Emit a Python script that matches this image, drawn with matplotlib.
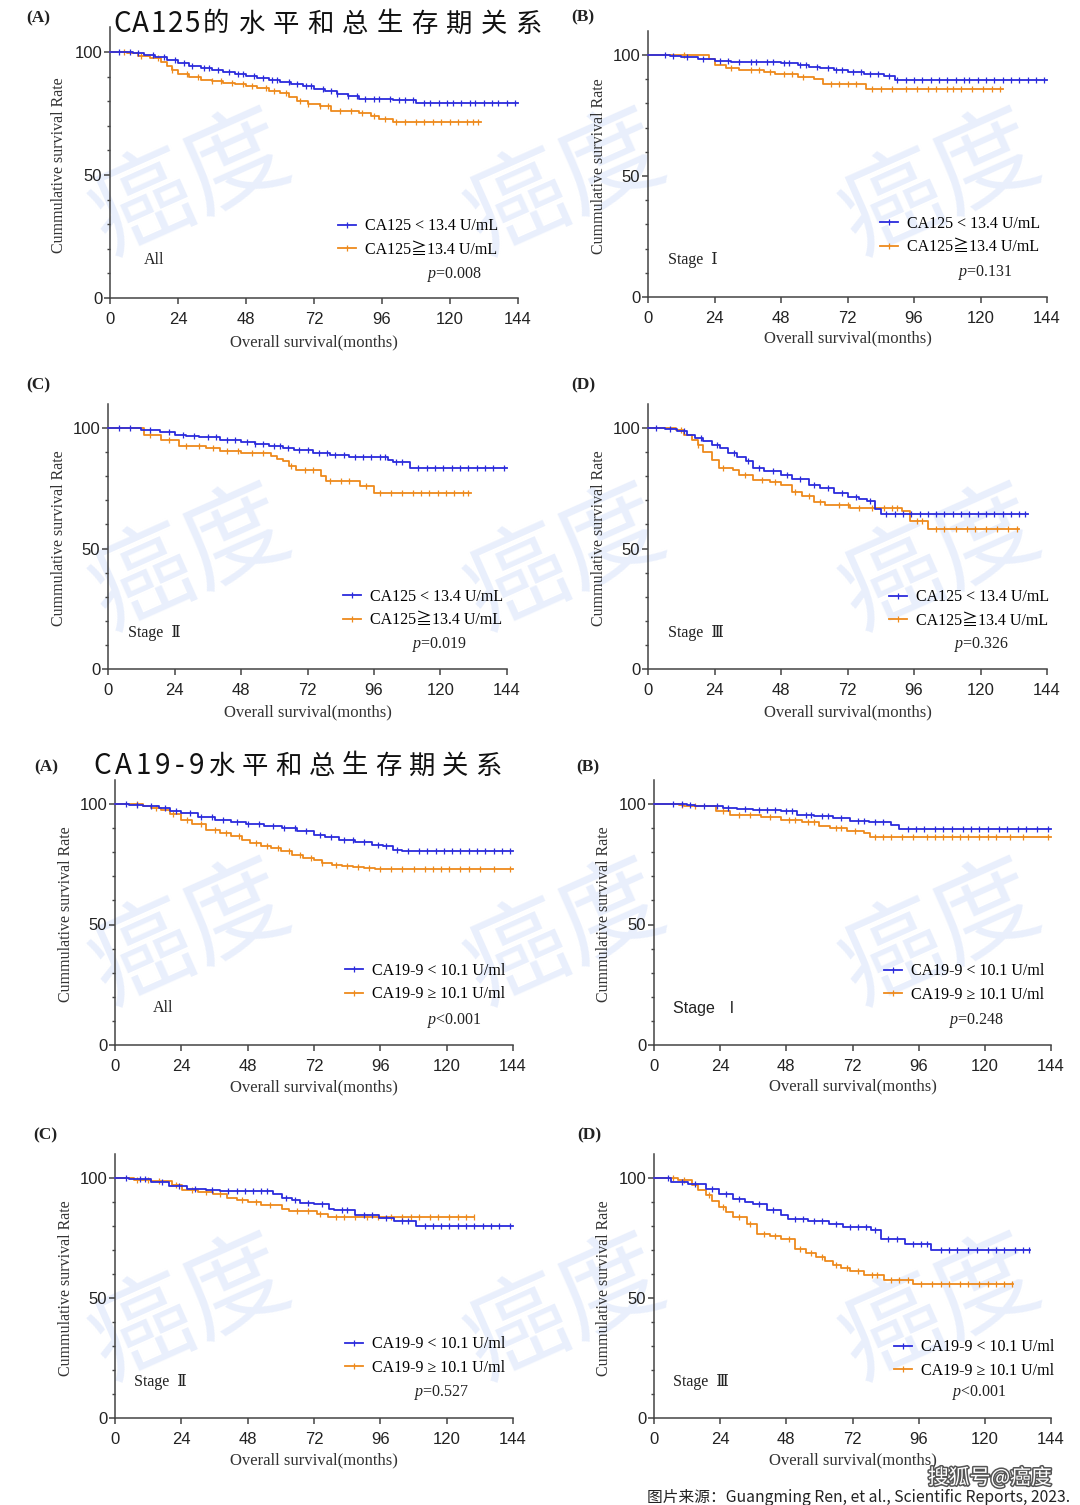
import numpy as np
import matplotlib
matplotlib.use("Agg")
import matplotlib.pyplot as plt
from matplotlib.lines import Line2D
from matplotlib.font_manager import FontProperties
import matplotlib.patheffects as pe

plt.rcParams['mathtext.fontset'] = 'custom'
plt.rcParams['mathtext.it'] = 'Liberation Serif:italic'
plt.rcParams['mathtext.rm'] = 'Liberation Serif'

# ---------------- data (months, survival %) ----------------
# CA125, All
ca125_all_lo_t = [0, 4, 8, 12, 16, 20, 24, 28, 32, 36, 40, 44, 48, 52, 56, 60, 64, 68, 72, 76, 80, 84, 88, 92, 100, 108, 144]
ca125_all_lo_s = [100, 99.8, 99.4, 98.6, 97.8, 96.9, 95.5, 94.5, 93.6, 92.6, 91.8, 91, 90.2, 89.3, 88.6, 87.8, 86.9, 86, 84.9, 84, 83, 82, 81, 80.7, 80.3, 79.2, 79.2]
ca125_all_lo_c = [3, 7, 10, 15, 19, 23, 26, 29, 33, 35, 38, 42, 45, 47, 51, 54, 57, 59, 63, 66, 69, 71, 75, 78, 80, 84, 87, 90, 93, 95, 99, 102, 104, 107, 111, 113, 116, 119, 121, 124, 127, 129, 132, 135, 137, 140, 143]
ca125_all_hi_t = [0, 6, 10, 14, 18, 20, 22, 24, 28, 32, 36, 40, 44, 48, 52, 56, 60, 63, 66, 70, 74, 78, 84, 88, 92, 95, 100, 131]
ca125_all_hi_s = [100, 99.5, 98.5, 97.4, 95.8, 94.5, 92.8, 91.2, 89.8, 88.8, 88.2, 87.6, 86.9, 86.1, 85.2, 84.3, 83.3, 81.6, 80.2, 78.8, 78.2, 76.2, 76, 75.4, 74, 72.8, 71.4, 71.4]
ca125_all_hi_c = [5, 11, 17, 22, 27, 31, 36, 39, 43, 47, 50, 55, 58, 62, 67, 70, 74, 77, 81, 85, 89, 93, 97, 101, 104, 108, 111, 114, 117, 120, 123, 126, 128, 130]

# CA125, Stage I
ca125_s1_lo_t = [0, 8, 12, 18, 24, 30, 40, 48, 54, 58, 62, 67, 72, 78, 85, 89, 144]
ca125_s1_lo_s = [100, 99.6, 99, 98.2, 97.5, 97.3, 97, 96.6, 96, 95.2, 94.8, 94, 92.8, 92.3, 91.3, 89.7, 89.7]
ca125_s1_lo_c = [6, 9, 14, 20, 26, 29, 33, 37, 39, 43, 45, 49, 51, 55, 57, 61, 65, 68, 70, 74, 77, 80, 83, 87, 90, 93, 96, 99, 102, 105, 108, 111, 114, 116, 119, 122, 125, 128, 131, 134, 137, 140, 143]
ca125_s1_hi_t = [0, 22, 24, 28, 33, 42, 46, 54, 60, 63, 78.5, 128]
ca125_s1_hi_s = [100, 98.5, 95.9, 94.5, 94, 93.1, 92.1, 91, 90, 88, 85.8, 85.8]
ca125_s1_hi_c = [13, 30, 37, 40, 44, 49, 52, 56, 66, 69, 72, 75, 81, 84, 88, 93, 97, 101, 104, 108, 110, 113, 117, 121, 124, 127]

# CA125, Stage II
ca125_s2_lo_t = [0, 12, 18.7, 24, 28, 33, 40.5, 48, 53, 58, 63, 67, 74, 80, 87, 101, 103, 109, 144]
ca125_s2_lo_s = [100, 99, 98.3, 97.2, 96.8, 96.1, 94.9, 94, 93.4, 92.7, 91.8, 91, 89.6, 88.6, 87.8, 86.9, 85.8, 83.4, 83.4]
ca125_s2_lo_c = [4, 8, 15, 22, 27, 31, 36, 39, 43, 46, 50, 53, 56, 60, 62, 65, 69, 72, 76, 79, 82, 85, 89, 92, 95, 98, 100, 104, 106, 112, 115, 118, 121, 124, 127, 130, 133, 136, 139, 143]
ca125_s2_hi_t = [0, 13, 19.3, 25.6, 35.5, 40.5, 48, 59, 61, 63, 65.5, 68, 77, 78.5, 91, 96, 131]
ca125_s2_hi_s = [100, 97.2, 95.2, 92.7, 91.7, 90.6, 89.6, 88.5, 87.2, 86.2, 84.1, 82.4, 79.9, 77.9, 75.8, 73, 73]
ca125_s2_hi_c = [15, 22, 28, 33, 38, 43, 47, 52, 56, 66, 71, 74, 80, 84, 87, 93, 98, 102, 106, 110, 113, 116, 119, 122, 125, 128, 130]

# CA125, Stage III
ca125_s3_lo_t = [0, 6, 10.6, 14, 16.8, 20, 23, 26, 29, 32, 35.5, 38, 42, 48, 52, 58, 62, 67, 72, 76, 79, 82, 84, 137]
ca125_s3_lo_s = [100, 99.5, 98.6, 97.2, 95.9, 94.6, 93.1, 91.5, 89.6, 88, 86.2, 83.4, 82, 80.6, 79, 76.5, 75, 73, 71.5, 70.5, 69.6, 66.5, 64.5, 64.5]
ca125_s3_lo_c = [3, 8, 13, 19, 25, 31, 36, 40, 45, 50, 55, 60, 65, 70, 75, 80, 86, 89, 92, 95, 98, 101, 104, 107, 110, 113, 116, 119, 122, 125, 128, 131, 134, 136]
ca125_s3_hi_t = [0, 10, 13, 16, 18, 20, 23, 25.6, 30.5, 33, 38, 44, 48, 52, 55.5, 60, 64, 73, 91.5, 94.7, 101, 134]
ca125_s3_hi_s = [100, 99, 97.2, 95, 93.1, 90, 86.9, 83.4, 82.7, 80.6, 78.6, 77.5, 76.5, 73.5, 71.6, 69.5, 68.2, 66.8, 65.4, 61.3, 58.1, 58.1]
ca125_s3_hi_c = [12, 18, 27, 35, 41, 46, 53, 58, 62, 69, 72, 76, 81, 85, 88, 90, 97, 99, 104, 107, 111, 115, 118, 122, 126, 130, 133]

# CA19-9, All
ca199_all_lo_t = [0, 5, 10, 16, 20, 24, 30, 36, 42, 47.5, 54, 60.5, 66, 72, 76, 81, 87, 93, 97, 100.5, 104, 108, 144]
ca199_all_lo_s = [100, 99.7, 99.3, 98.2, 97.3, 96.3, 94.8, 93.5, 92.6, 91.8, 91, 90, 88.7, 87.3, 86.3, 85.2, 84.2, 83.1, 82.5, 81, 80.6, 80.3, 80.3]
ca199_all_lo_c = [4, 8, 13, 18, 22, 27, 31, 35, 39, 44, 48, 52, 57, 61, 65, 69, 74, 78, 83, 86, 90, 95, 98, 102, 106, 110, 113, 116, 119, 122, 125, 128, 131, 134, 137, 140, 143]
ca199_all_hi_t = [0, 10, 13, 16.5, 20, 24, 28, 33, 38, 42, 46, 49, 53, 56.6, 60, 64, 68, 72, 75, 78.5, 82, 86, 90, 94, 144]
ca199_all_hi_s = [100, 99.2, 98.5, 97.6, 96, 93.5, 91.5, 89.3, 87.8, 86.6, 85, 83.8, 82.6, 81.7, 80.3, 79, 77.8, 76.9, 75.6, 74.8, 74.2, 73.7, 73.4, 73, 73]
ca199_all_hi_c = [8, 15, 21, 26, 31, 36, 40, 45, 51, 55, 59, 63, 67, 71, 75, 80, 84, 88, 92, 96, 100, 104, 108, 112, 115, 118, 121, 125, 128, 132, 137, 143]

# CA19-9, Stage I
ca199_s1_lo_t = [0, 12, 15, 25, 30, 36, 46, 52, 58, 65, 71, 78, 86, 89, 144]
ca199_s1_lo_s = [100, 99.6, 99.3, 98.3, 98, 97.6, 96.9, 95.6, 95, 94.2, 92.8, 92.5, 91.4, 89.7, 89.7]
ca199_s1_lo_c = [7, 10, 13, 18, 23, 27, 33, 38, 41, 44, 48, 50, 55, 57, 61, 63, 68, 74, 76, 80, 83, 92, 95, 98, 102, 105, 108, 112, 115, 118, 121, 125, 128, 132, 135, 139, 143]
ca199_s1_hi_t = [0, 9, 11, 21, 22.5, 27.4, 38.7, 46, 53.6, 60, 64, 70, 76, 78.5, 144]
ca199_s1_hi_s = [100, 99.7, 99.3, 99, 96.9, 95.6, 94.4, 93.5, 92.5, 90.7, 90, 88.9, 87.9, 86.5, 86.5]
ca199_s1_hi_c = [10, 15, 25, 31, 35, 42, 49, 51, 56, 58, 66, 68, 73, 80, 83, 86, 90, 94, 99, 102, 105, 108, 111, 114, 118, 121, 124, 129, 134, 143]

# CA19-9, Stage II
ca199_s2_lo_t = [0, 5, 7, 13, 19.4, 26, 33, 38, 57, 60.6, 64, 67, 72, 77.5, 79.4, 87, 95.6, 101, 109, 144]
ca199_s2_lo_s = [100, 99.7, 99.4, 98.3, 96.5, 95.6, 94.9, 94.4, 93.2, 91.8, 90.8, 89.6, 89, 87.2, 86.5, 84.7, 83.5, 82.1, 79.9, 79.9]
ca199_s2_lo_c = [4, 9, 11, 17, 23, 29, 35, 41, 44, 47, 50, 53, 55, 62, 65, 70, 75, 82, 84, 90, 93, 98, 104, 106, 112, 115, 118, 121, 124, 127, 130, 133, 136, 139, 143]
ca199_s2_hi_t = [0, 7, 13, 20.6, 24.4, 30, 35.6, 40.6, 44, 48, 53, 60.6, 63, 73, 77, 130]
ca199_s2_hi_s = [100, 99.3, 98.6, 97, 94.9, 94.2, 93.2, 91.8, 91, 90, 88.6, 87.2, 86.3, 85.1, 83.8, 83.8]
ca199_s2_hi_c = [8, 12, 16, 22, 28, 33, 38, 46, 51, 56, 66, 70, 74, 80, 83, 87, 91, 95, 100, 104, 107, 110, 114, 117, 121, 124, 127, 130]

# CA19-9, Stage III
ca199_s3_lo_t = [0, 6.2, 12.5, 18.7, 23.7, 28.7, 33, 36, 41, 46, 48.6, 56, 63.6, 68.6, 78.6, 82.3, 91, 100.4, 136.5]
ca199_s3_lo_s = [100, 98.3, 97.4, 95.6, 93.5, 91.1, 90, 89.3, 86.5, 84.4, 83.1, 82.2, 81, 79.6, 78.2, 74.7, 72.4, 70.1, 70.1]
ca199_s3_lo_c = [5, 10, 15, 21, 26, 31, 38, 43, 51, 54, 58, 61, 66, 71, 74, 77, 80, 85, 88, 94, 97, 99, 104, 107, 110, 114, 117, 121, 124, 127, 131, 134, 136]
ca199_s3_hi_t = [0, 8.7, 13.7, 16, 18.7, 21, 23.7, 26, 28.7, 33.7, 37.4, 42, 46, 51, 55, 58.6, 62, 64.8, 68, 71, 76, 83.5, 94, 130.3]
ca199_s3_hi_s = [100, 99, 96.9, 95, 92.8, 90.5, 87.9, 85.8, 83.8, 81, 76.8, 75.8, 74.7, 70.6, 68.8, 67.1, 65.5, 63.6, 62.3, 61.3, 59.4, 57.6, 56, 56]
ca199_s3_hi_c = [7, 11, 20, 25, 31, 35, 40, 44, 49, 53, 57, 61, 66, 70, 74, 79, 81, 86, 89, 92, 97, 101, 104, 107, 111, 114, 118, 121, 124, 127, 130]

x_ticks = [0, 24, 48, 72, 96, 120, 144]
y_ticks = [0, 50, 100]
ca125_labels = ['CA125 < 13.4 U/mL', 'CA125\u226713.4 U/mL']
ca199_labels = ['CA19-9 < 10.1 U/ml', 'CA19-9 \u2265 10.1 U/ml']
panel_letters = ['(A)', '(B)', '(C)', '(D)', '(A)', '(B)', '(C)', '(D)']
group_names = ['All', 'Stage  \u2160', 'Stage  \u2161', 'Stage  \u2162', 'All', 'Stage  \u2160', 'Stage  \u2161', 'Stage  \u2162']
p_values = ['=0.008', '=0.131', '=0.019', '=0.326', '<0.001', '=0.248', '=0.527', '<0.001']
title_ca125 = 'CA125的水平和总生存期关系'
title_ca199 = 'CA19-9水平和总生存期关系'
source_text = '图片来源：Guangming Ren, et al., Scientific Reports, 2023.'
mark_text = '搜狐号@癌度'

curves = [
    (ca125_all_lo_t, ca125_all_lo_s, ca125_all_lo_c, ca125_all_hi_t, ca125_all_hi_s, ca125_all_hi_c),
    (ca125_s1_lo_t, ca125_s1_lo_s, ca125_s1_lo_c, ca125_s1_hi_t, ca125_s1_hi_s, ca125_s1_hi_c),
    (ca125_s2_lo_t, ca125_s2_lo_s, ca125_s2_lo_c, ca125_s2_hi_t, ca125_s2_hi_s, ca125_s2_hi_c),
    (ca125_s3_lo_t, ca125_s3_lo_s, ca125_s3_lo_c, ca125_s3_hi_t, ca125_s3_hi_s, ca125_s3_hi_c),
    (ca199_all_lo_t, ca199_all_lo_s, ca199_all_lo_c, ca199_all_hi_t, ca199_all_hi_s, ca199_all_hi_c),
    (ca199_s1_lo_t, ca199_s1_lo_s, ca199_s1_lo_c, ca199_s1_hi_t, ca199_s1_hi_s, ca199_s1_hi_c),
    (ca199_s2_lo_t, ca199_s2_lo_s, ca199_s2_lo_c, ca199_s2_hi_t, ca199_s2_hi_s, ca199_s2_hi_c),
    (ca199_s3_lo_t, ca199_s3_lo_s, ca199_s3_lo_c, ca199_s3_hi_t, ca199_s3_hi_s, ca199_s3_hi_c),
]

# ---------------- layout (pixels) ----------------
W, H = 1080, 1505
BLUE = '#2b2bdc'
ORANGE = '#ee8a1c'
AXC = '#444444'
SERIF = ['Liberation Serif', 'DejaVu Serif', 'Noto Sans CJK SC', 'DejaVu Sans']
SANS = ['Liberation Sans', 'Noto Sans CJK SC', 'DejaVu Sans']
CJK = ['Noto Sans CJK SC', 'DejaVu Sans']

panels = [
    dict(ax=(110, 518, 298, 52), let=(26, 18), yl=59, xl=342, lg=(338, 227, 249), grp=(144, 260), p=(427, 275)),
    dict(ax=(648, 1047, 297, 55), let=(571, 17), yl=599, xl=338, lg=(880, 224, 247), grp=(668, 260), p=(958, 272)),
    dict(ax=(108, 507, 669, 428), let=(26, 385), yl=59, xl=712, lg=(343, 598, 619), grp=(128, 633), p=(412, 645)),
    dict(ax=(648, 1047, 669, 428), let=(571, 385), yl=599, xl=712, lg=(889, 598, 620), grp=(668, 633), p=(954, 645)),
    dict(ax=(115, 513, 1045, 804), let=(34, 767), yl=66, xl=1087, lg=(345, 971, 994), grp=(153, 1008), p=(427, 1020)),
    dict(ax=(654, 1051, 1045, 804), let=(576, 767), yl=604, xl=1086, lg=(884, 971, 995), grp=(673, 1009), p=(949, 1020)),
    dict(ax=(115, 513, 1418, 1178), let=(33, 1135), yl=66, xl=1460, lg=(345, 1344, 1368), grp=(134, 1382), p=(414, 1393)),
    dict(ax=(654, 1051, 1418, 1178), let=(577, 1135), yl=604, xl=1460, lg=(894, 1347, 1371), grp=(673, 1382), p=(952, 1393)),
]

fig = plt.figure(figsize=(W / 100, H / 100), dpi=100, facecolor='white')


def fx(x):
    return x / W


def fy(y):
    return 1 - y / H


# ---------------- watermarks ----------------
wm_centers = [(190, 185), (565, 185), (940, 185),
              (190, 560), (565, 560), (940, 560),
              (190, 935), (565, 935), (940, 935),
              (190, 1310), (565, 1310), (940, 1310)]
for (cx, cy) in wm_centers:
    fig.text(fx(cx), fy(cy), '癌度', fontsize=74, rotation=24, color='#e9effc',
             family=CJK, fontweight='light', ha='center', va='center', zorder=-5)


def draw_km(ax, t, s, c, color):
    t = np.asarray(t, float)
    s = np.asarray(s, float)
    ax.step(t, s, where='post', color=color, lw=1.3, clip_on=False, zorder=3)
    c = np.asarray(c, float)
    idx = np.searchsorted(t, c, side='right') - 1
    ax.plot(c, s[idx], ls='none', marker='|', ms=4, mew=0.9, color=color, clip_on=False, zorder=3)


for i, (P, cv) in enumerate(zip(panels, curves)):
    x0, x1, y0, y100 = P['ax']
    ppu = (y0 - y100) / 100.0
    ytop = y0 - 110 * ppu
    ax = fig.add_axes([fx(x0), fy(y0), (x1 - x0) / W, (y0 - ytop) / H])
    ax.set_facecolor('none')
    ax.set_xlim(0, 144)
    ax.set_ylim(0, 110)
    for sp in ['top', 'right']:
        ax.spines[sp].set_visible(False)
    for sp in ['left', 'bottom']:
        ax.spines[sp].set_color(AXC)
        ax.spines[sp].set_linewidth(1.1)
    ax.spines['left'].set_bounds(0, 110)
    ax.set_xticks(x_ticks)
    ax.set_yticks(y_ticks)
    ax.set_yticks([10, 20, 30, 40, 60, 70, 80, 90], minor=True)
    ax.tick_params(axis='both', which='major', direction='out', length=4, width=1.1,
                   color=AXC, labelcolor='#222222', labelsize=12)
    ax.tick_params(axis='y', which='major', pad=1.5)
    ax.tick_params(axis='x', which='major', pad=6)
    ax.tick_params(axis='y', which='minor', direction='out', length=2.5, width=1.0, color=AXC)
    for lab in ax.get_xticklabels() + ax.get_yticklabels():
        lab.set_family(SANS)

    lo_t, lo_s, lo_c, hi_t, hi_s, hi_c = cv
    draw_km(ax, hi_t, hi_s, hi_c, ORANGE)
    draw_km(ax, lo_t, lo_s, lo_c, BLUE)

    labels = ca125_labels if i < 4 else ca199_labels
    handles = [Line2D([], [], color=BLUE, lw=1.3, marker='|', ms=4, mew=0.9),
               Line2D([], [], color=ORANGE, lw=1.3, marker='|', ms=4, mew=0.9)]
    lx, ly1, ly2 = P['lg']
    ax.legend(handles, labels, loc='center left', bbox_to_anchor=(fx(lx), fy((ly1 + ly2) / 2)),
              bbox_transform=fig.transFigure, frameon=False, borderpad=0, borderaxespad=0,
              handlelength=1.1, handletextpad=0.6, labelspacing=0.45,
              prop=FontProperties(family=SERIF, size=11.5))

    fig.text(fx(P['let'][0]), fy(P['let'][1]), panel_letters[i], family=SERIF, fontweight='bold',
             fontsize=12.5, ha='left', va='center', color='#222222')
    cy = (ytop + y0) / 2 + 2
    fig.text(fx(P['yl']), fy(cy), 'Cummulative survival Rate', rotation=90, family=SERIF,
             fontsize=11.5, ha='center', va='center', color='#333333')
    fig.text(fx((x0 + x1) / 2), fy(P['xl']), 'Overall survival(months)', family=SERIF,
             fontsize=12, ha='center', va='center', color='#333333')
    gfam = SANS if i == 5 else SERIF
    fig.text(fx(P['grp'][0]), fy(P['grp'][1]), group_names[i], family=gfam,
             fontsize=11.5, ha='left', va='center', color='#222222')
    fig.text(fx(P['p'][0]), fy(P['p'][1]), '$p$' + p_values[i], family=SERIF,
             fontsize=11.5, ha='left', va='center', color='#222222')


# ---------------- spaced titles ----------------
renderer = fig.canvas.get_renderer()


def spaced_text(s, x_left, x_right, y_c, size, family, color='#111111', weight='normal', **kw):
    arts, widths = [], []
    for ch in s:
        t = fig.text(0, 0, ch, fontsize=size, family=family, color=color, fontweight=weight,
                     ha='left', va='center', **kw)
        arts.append(t)
        widths.append(t.get_window_extent(renderer).width)
    gap = (x_right - x_left - sum(widths)) / max(len(s) - 1, 1)
    x = x_left
    for t, w in zip(arts, widths):
        t.set_position((fx(x), fy(y_c)))
        x += w + gap
    return arts


def split_latin(s):
    for k, ch in enumerate(s):
        if ord(ch) > 0x2E80:
            return s[:k], s[k:]
    return s, ''


lat1, cjk1 = split_latin(title_ca125)
spaced_text(lat1, 113, 200, 24, 20, CJK)
spaced_text(cjk1, 203, 542, 24, 19, CJK)
lat2, cjk2 = split_latin(title_ca199)
spaced_text(lat2, 93, 204, 766, 20, CJK)
spaced_text(cjk2, 208, 502, 766, 19, CJK)

src = fig.text(fx(647), fy(1497), source_text, fontsize=11.3, family=CJK, color='#222222',
               fontweight='medium', ha='left', va='center')
wm = fig.text(fx(990), fy(1478), mark_text, fontsize=15, family=CJK, color='white',
              ha='center', va='center', zorder=10)
wm.set_path_effects([pe.Stroke(linewidth=2.2, foreground='#555555'), pe.Normal()])

fig.savefig('out.png', dpi=100, facecolor='white')
